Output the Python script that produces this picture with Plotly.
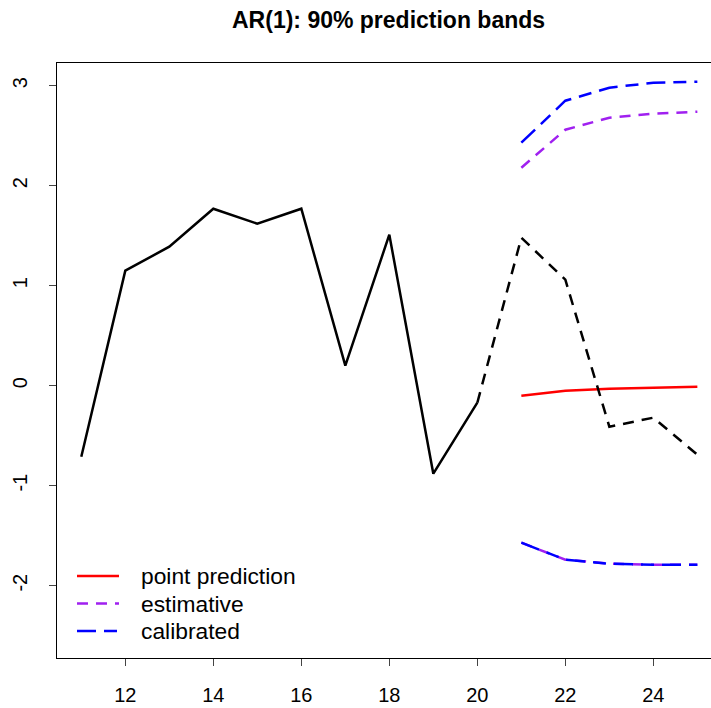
import plotly.graph_objects as go

# ---- data ----
time = list(range(11, 26))
observed = [-0.71, 1.15, 1.39, 1.77, 1.62, 1.77, 0.20, 1.51, -0.88, -0.17,
            1.48, 1.06, -0.41, -0.32, -0.69]
n_fit = 10  # 11..20 solid, 20..25 dashed

horizon = [21, 22, 23, 24, 25]
point_pred = [-0.10, -0.05, -0.03, -0.02, -0.01]
est_upper = [2.18, 2.56, 2.68, 2.72, 2.74]
est_lower = [-1.57, -1.74, -1.78, -1.79, -1.79]
cal_upper = [2.43, 2.85, 2.98, 3.03, 3.04]
cal_lower = [-1.57, -1.74, -1.78, -1.79, -1.79]

x_ticks = [12, 14, 16, 18, 20, 22, 24]
y_ticks = [-2, -1, 0, 1, 2, 3]

legend_labels = ["point prediction", "estimative", "calibrated"]
legend_colors = ["#ff0000", "#a020f0", "#0000ff"]
legend_dash = ["solid", "11px,8px", "19px,8px,13px,8px"]

FONT = "Liberation Sans, Arial, sans-serif"
LW = 2.5

fig = go.Figure()

# prediction lines
fig.add_trace(go.Scatter(x=horizon, y=point_pred, mode="lines",
                         line=dict(color=legend_colors[0], width=LW)))
fig.add_trace(go.Scatter(x=horizon, y=est_upper, mode="lines",
                         line=dict(color=legend_colors[1], width=LW, dash=legend_dash[1])))
fig.add_trace(go.Scatter(x=horizon, y=est_lower, mode="lines",
                         line=dict(color=legend_colors[1], width=LW, dash=legend_dash[1])))
fig.add_trace(go.Scatter(x=horizon, y=cal_upper, mode="lines",
                         line=dict(color=legend_colors[2], width=LW, dash=legend_dash[2])))
fig.add_trace(go.Scatter(x=horizon, y=cal_lower, mode="lines",
                         line=dict(color=legend_colors[2], width=LW, dash=legend_dash[2])))

# observed series
fig.add_trace(go.Scatter(x=time[:n_fit], y=observed[:n_fit], mode="lines",
                         line=dict(color="black", width=LW)))
fig.add_trace(go.Scatter(x=time[n_fit - 1:], y=observed[n_fit - 1:], mode="lines",
                         line=dict(color="black", width=LW, dash="11px,8px")))

# manual legend (R-style, no box)
shapes = []
annotations = []
leg_rows_px = [576, 603.5, 631]
H = 595.0
for lab, col, dsh, py in zip(legend_labels, legend_colors, legend_dash, leg_rows_px):
    yp = (658 - py) / H
    shapes.append(dict(type="line", xref="paper", yref="paper",
                       x0=(77 - 57) / 654, x1=(119 - 57) / 654, y0=yp, y1=yp,
                       line=dict(color=col, width=LW, dash=dsh)))
    annotations.append(dict(text=lab, xref="paper", yref="paper",
                            x=(139 - 57) / 654, y=yp, xanchor="left", yanchor="middle",
                            showarrow=False, font=dict(family=FONT, size=22.8, color="black")))

# title
annotations.append(dict(text="<b>AR(1): 90% prediction bands</b>", xref="paper", yref="paper",
                        x=(388 - 57) / 654, y=1 + (63 - 20) / H, xanchor="center",
                        yanchor="middle", showarrow=False,
                        font=dict(family=FONT, size=23, color="black")))

fig.update_layout(
    width=711, height=708,
    margin=dict(l=57, r=0, t=63, b=50),
    paper_bgcolor="white", plot_bgcolor="white",
    showlegend=False,
    shapes=shapes, annotations=annotations,
    font=dict(family=FONT, size=20, color="black"),
)
fig.update_xaxes(range=[10.448, 25.31], tickvals=x_ticks, ticks="outside", ticklen=7,
                 tickcolor="#444", showgrid=False, zeroline=False,
                 showline=True, mirror=True, linecolor="black", linewidth=1,
                 tickfont=dict(family=FONT, size=20), ticklabelstandoff=12)
fig.update_yaxes(range=[-2.723, 3.227], tickvals=y_ticks, ticktext=[str(v) for v in y_ticks],
                 ticks="outside", ticklen=7, tickcolor="#444", showgrid=False, zeroline=False,
                 showline=True, linecolor="black", linewidth=1, tickangle=-90,
                 tickfont=dict(family=FONT, size=20), ticklabelstandoff=14)

fig.write_html("out.html")
